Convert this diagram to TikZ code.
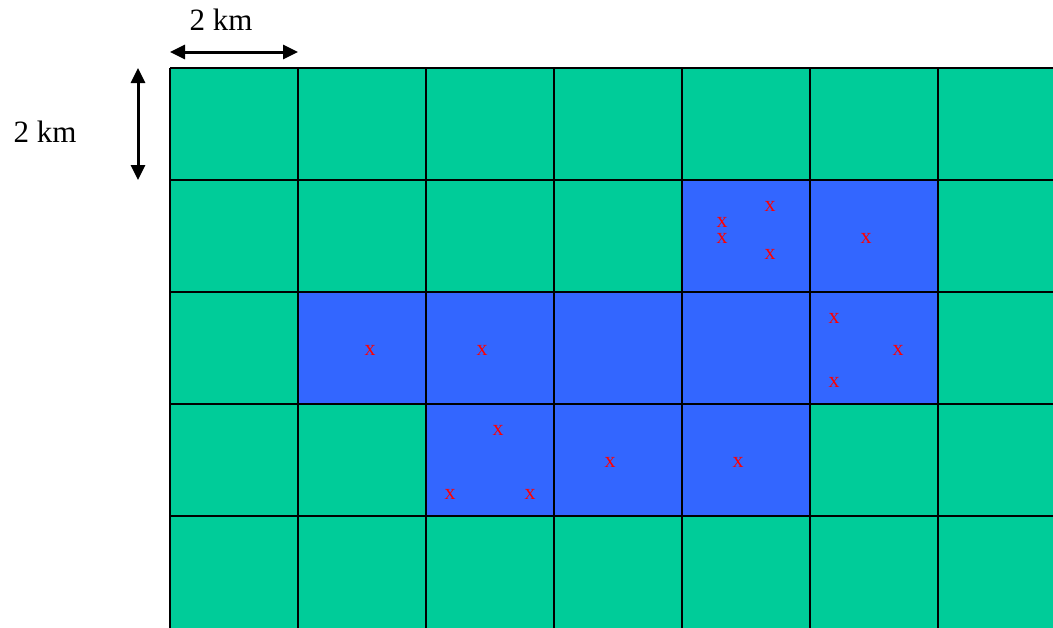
\documentclass[tikz,border=0pt]{standalone}
\usepackage{fontspec}
\setmainfont{Liberation Serif}
\usepackage{tikz}
\usetikzlibrary{arrows.meta}

\definecolor{cellgreen}{HTML}{00CC99}
\definecolor{cellblue}{HTML}{3366FF}

\tikzset{
  dimarrow/.style={line width=3pt,{Triangle[length=15pt,width=14pt]}-{Triangle[length=15pt,width=14pt]}},
  dimlabel/.style={font=\fontsize{31}{36}\selectfont,inner sep=0pt},
  hit/.style={text=red,font=\fontsize{22}{24}\selectfont,inner sep=0pt}
}

\begin{document}
\begin{tikzpicture}[x=1pt,y=-1pt]
\useasboundingbox (0,0) rectangle (1053,627);
\clip (0,0) rectangle (1053,627);

% Cells
\fill[cellgreen] (170,68) rectangle (1070,640);
\fill[cellblue] (682,180) rectangle (938,292);
\fill[cellblue] (298,292) rectangle (938,404);
\fill[cellblue] (426,404) rectangle (810,516);

% Grid
\foreach \x in {170,298,...,938}
  \draw[line width=2pt] (\x,68) -- (\x,640);
\foreach \y in {68,180,...,516}
  \draw[line width=2pt] (170,\y) -- (1070,\y);

% Scale
\coordinate (hl) at (170,52);
\coordinate (hr) at (298,52);
\coordinate (vt) at (138,68);
\coordinate (vb) at (138,180);
\draw[dimarrow] (hl) -- (hr);
\draw[dimarrow] (vt) -- (vb);
\node[dimlabel] (hkm) at (221,20) {2 km};
\node[dimlabel] (vkm) at (45,132) {2 km};

% Hits
\node[hit] (a1) at (770,206) {x};
\node[hit] (a2) at (722,222) {x};
\node[hit] (a3) at (722,238) {x};
\node[hit] (a4) at (770,254) {x};
\node[hit] (b1) at (866,238) {x};
\node[hit] (c1) at (370,350) {x};
\node[hit] (d1) at (482,350) {x};
\node[hit] (e1) at (834,318) {x};
\node[hit] (e2) at (898,350) {x};
\node[hit] (e3) at (834,382) {x};
\node[hit] (f1) at (498,430) {x};
\node[hit] (f2) at (450,494) {x};
\node[hit] (f3) at (530,494) {x};
\node[hit] (g1) at (610,462) {x};
\node[hit] (h1) at (738,462) {x};
\end{tikzpicture}
\end{document}
